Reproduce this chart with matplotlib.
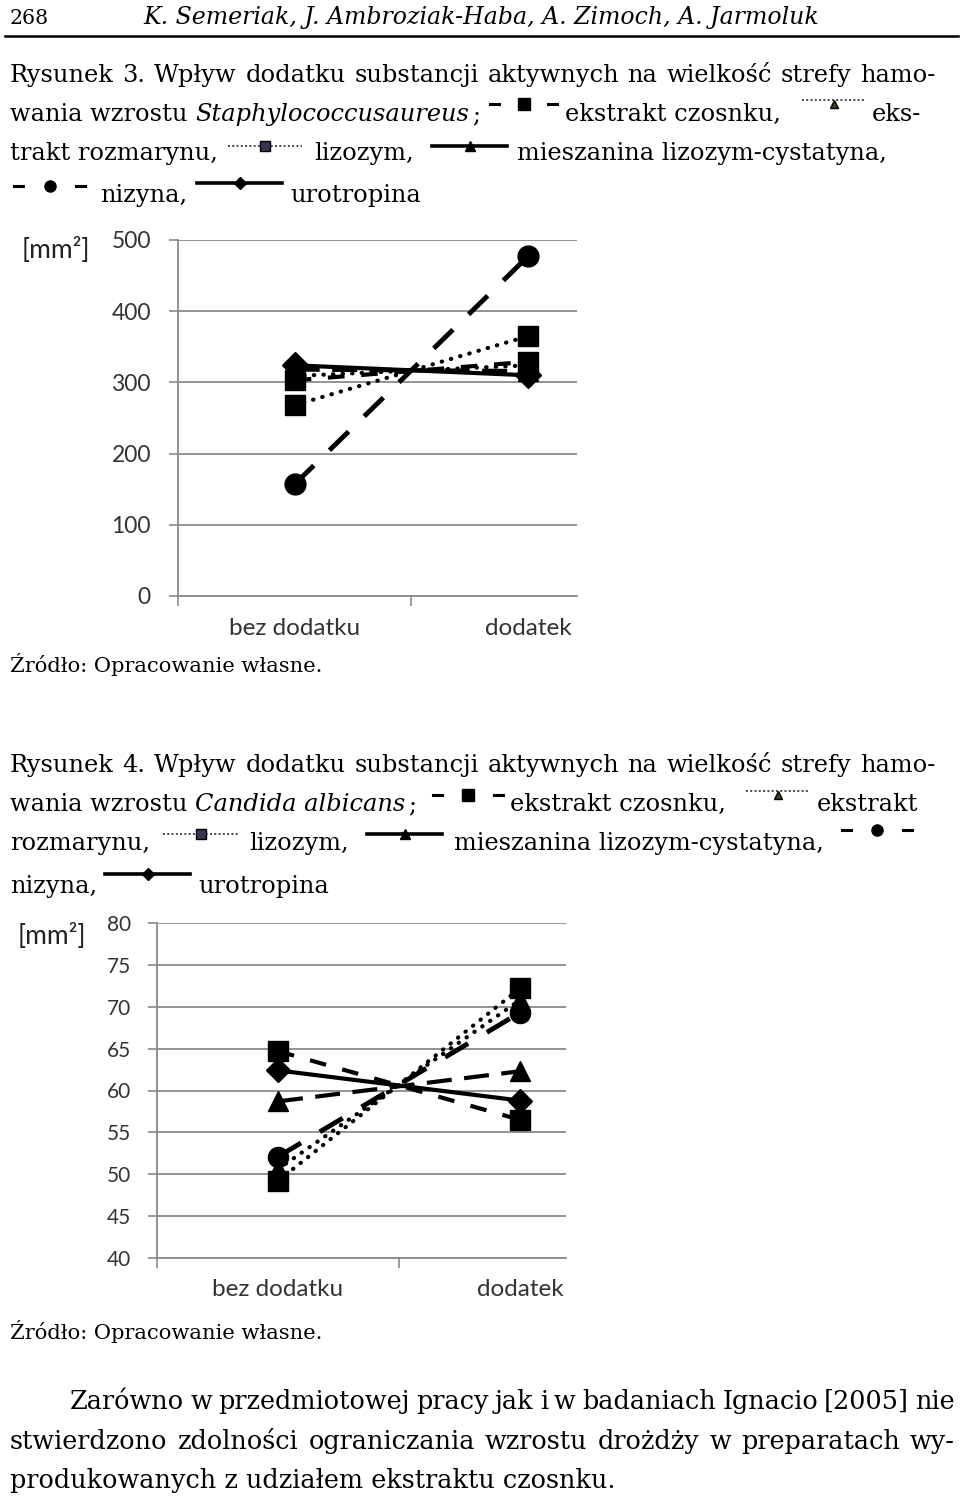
import numpy as np
import matplotlib.pyplot as plt
from matplotlib.lines import Line2D

categories = ['bez dodatku', 'dodatek']

# Rysunek 3 - Staphylococcus aureus, strefa hamowania [mm2]
staph_czosnek = [303, 329]
staph_rozmaryn = [309, 324]
staph_lizozym = [268, 365]
staph_mieszanina = [318, 316]
staph_nizyna = [157, 477]
staph_urotropina = [324, 310]
staph_ticks = [0, 100, 200, 300, 400, 500]

# Rysunek 4 - Candida albicans, strefa hamowania [mm2]
cand_czosnek = [64.7, 56.5]
cand_rozmaryn = [50.6, 70.8]
cand_lizozym = [49.2, 72.2]
cand_mieszanina = [58.7, 62.3]
cand_nizyna = [52.1, 69.3]
cand_urotropina = [62.4, 58.8]
cand_ticks = [40, 45, 50, 55, 60, 65, 70, 75, 80]

W, H = 960, 1499
fig = plt.figure(figsize=(W / 100, H / 100), dpi=100)
fig.patch.set_facecolor('white')
r = fig.canvas.get_renderer()

SERIF = 'DejaVu Serif'
SANS = 'Lato'


def put(x, y, s, size, **kw):
    # x, y in pixels from the top left corner, y = baseline
    kw.setdefault('family', SERIF)
    return fig.text(x / W, 1 - y / H, s, fontsize=size, ha='left', va='baseline', **kw)


def width(t):
    return t.get_window_extent(r).width


def fit(s, target, **kw):
    probe = put(0, 0, s, 10, **kw)
    size = 10 * target / width(probe)
    probe.remove()
    return size


def justify(x0, x1, y, s, size, **kw):
    words = s.split(' ')
    ts = [put(0, y, w, size, **kw) for w in words]
    ws = [width(t) for t in ts]
    gap = (x1 - x0 - sum(ws)) / (len(words) - 1)
    x = x0
    for t, w in zip(ts, ws):
        t.set_x(x / W)
        x += w + gap


def sym(x0, x1, y, kind, marker, ms, mfc='k', dy=0):
    # small legend glyph inside the caption text
    ys = [1 - y / H] * 2
    if kind == 'dash':
        fig.add_artist(Line2D([x0 / W, (x0 + 9) / W], ys, lw=2.2, color='k'))
        fig.add_artist(Line2D([(x1 - 9) / W, x1 / W], ys, lw=2.2, color='k'))
    elif kind == 'dot':
        fig.add_artist(Line2D([x0 / W, x1 / W], [ys[0] + dy / H] * 2, lw=1.4, color='#444444',
                              ls=(0, (1, 1.2))))
    else:
        fig.add_artist(Line2D([x0 / W, x1 / W], ys, lw=2.6, color='k'))
    fig.add_artist(Line2D([(x0 + x1) / 2 / W], [ys[0]], marker=marker, ms=ms,
                          color='k', mfc=mfc, ls='none'))


fs = fit('Rysunek 3. Wpływ dodatku substancji aktywnych na wielkość strefy hamo-', 915)
fp = fit('stwierdzono zdolności ograniczania wzrostu drożdży w preparatach wy-', 935)

# header
put(10, 24, '268', fs * 0.85)
put(143, 24, 'K. Semeriak, J. Ambroziak-Haba, A. Zimoch, A. Jarmoluk', fs * 0.98, style='italic')
fig.add_artist(Line2D([5 / W, 958 / W], [1 - 36 / H] * 2, lw=1.8, color='k'))

# caption 3
justify(10, 935, 82, 'Rysunek 3. Wpływ dodatku substancji aktywnych na wielkość strefy hamo-', fs)
put(10, 121, 'wania wzrostu', fs)
it = put(195, 121, 'Staphylococcusaureus', fs, style='italic')
put(195 + width(it) + 3, 121, ';', fs)
sym(490, 557, 104, 'dash', 's', 8)
put(565, 121, 'ekstrakt czosnku,', fs)
sym(802, 866, 104, 'dot', '^', 6, mfc='#3d4420', dy=4)
put(872, 121, 'eks-', fs)
put(10, 160, 'trakt rozmarynu,', fs)
sym(228, 302, 146, 'dot', 's', 7, mfc='#3b3355')
put(314, 160, 'lizozym,', fs)
sym(432, 507, 146, 'solid', '^', 7)
put(517, 160, 'mieszanina lizozym-cystatyna,', fs)
sym(14, 85, 186, 'dash', 'o', 8)
put(100, 202, 'nizyna,', fs)
sym(197, 282, 183, 'solid', 'D', 6)
put(290, 202, 'urotropina', fs)

# caption 4
justify(10, 935, 772, 'Rysunek 4. Wpływ dodatku substancji aktywnych na wielkość strefy hamo-', fs)
put(10, 811, 'wania wzrostu', fs)
it = put(195, 811, 'Candida albicans', fs, style='italic')
put(195 + width(it) + 3, 811, ';', fs)
sym(433, 503, 795, 'dash', 's', 8)
put(510, 811, 'ekstrakt czosnku,', fs)
sym(746, 810, 795, 'dot', '^', 6, mfc='#3d4420', dy=4)
put(817, 811, 'ekstrakt', fs)
put(10, 850, 'rozmarynu,', fs)
sym(163, 238, 834, 'dot', 's', 7, mfc='#3b3355')
put(249, 850, 'lizozym,', fs)
sym(367, 442, 834, 'solid', '^', 7)
put(454, 850, 'mieszanina lizozym-cystatyna,', fs)
sym(842, 912, 830, 'dash', 'o', 8)
put(10, 893, 'nizyna,', fs)
sym(105, 190, 874, 'solid', 'D', 6)
put(198, 893, 'urotropina', fs)

# source notes
put(10, 672, 'Źródło: Opracowanie własne.', fs * 0.87)
put(10, 1339, 'Źródło: Opracowanie własne.', fs * 0.87)

# paragraph
justify(70, 955, 1409, 'Zarówno w przedmiotowej pracy jak i w badaniach Ignacio [2005] nie', fp)
justify(10, 955, 1449, 'stwierdzono zdolności ograniczania wzrostu drożdży w preparatach wy-', fp)
put(10, 1488, 'produkowanych z udziałem ekstraktu czosnku.', fp)


def chart(box, xlim, ylim, ticks, data, tick_fs, cat_fs, ms, lab_pad):
    left, right, top, bottom = box
    ax = fig.add_axes([left / W, 1 - bottom / H, (right - left) / W, (bottom - top) / H])
    x = np.arange(len(categories))
    (czosnek, rozmaryn, lizozym, mieszanina, nizyna, urotropina) = data
    lw = 3
    ax.plot(x, mieszanina, color='k', lw=lw, ls=(0, (6, 3)), marker='^', ms=ms, zorder=3)
    ax.plot(x, czosnek, color='k', lw=lw, ls=(0, (4, 4)), marker='s', ms=ms, zorder=3)
    ax.plot(x, rozmaryn, color='k', lw=lw, ls=(0, (0.1, 2.2)), dash_capstyle='round',
            marker='^', ms=ms, zorder=3)
    ax.plot(x, lizozym, color='k', lw=lw, ls=(0, (0.1, 2.2)), dash_capstyle='round',
            marker='s', ms=ms, zorder=3)
    ax.plot(x, nizyna, color='k', lw=lw + 0.5, ls=(0, (5.5, 4.5)), marker='o', ms=ms, zorder=4)
    ax.plot(x, urotropina, color='k', lw=lw, marker='D', ms=ms * 0.85, zorder=4)
    ax.set_xlim(*xlim)
    ax.set_ylim(*ylim)
    ax.set_yticks(ticks)
    ax.set_xticks(x)
    ax.set_xticklabels(categories)
    ax.set_xticks([-0.5, 0.5], minor=True)
    ax.grid(axis='y', color='#8a8a8a', lw=1.3, zorder=0)
    ax.set_axisbelow(True)
    for s in ['top', 'right']:
        ax.spines[s].set_visible(False)
    for s in ['left', 'bottom']:
        ax.spines[s].set_color('#8a8a8a')
        ax.spines[s].set_linewidth(1.3)
    ax.tick_params(axis='y', length=6.5, width=1.2, color='#8a8a8a', pad=lab_pad,
                   labelsize=tick_fs, labelcolor='#333333')
    ax.tick_params(axis='x', which='major', length=0, pad=lab_pad + 3,
                   labelsize=cat_fs, labelcolor='#333333')
    ax.tick_params(axis='x', which='minor', length=7, width=1.2, color='#8a8a8a')
    for t in ax.get_xticklabels() + ax.get_yticklabels():
        t.set_family(SANS)
    return ax


chart((178, 577, 240, 596), (-0.5, 1.21), (0, 500), staph_ticks,
      (staph_czosnek, staph_rozmaryn, staph_lizozym, staph_mieszanina, staph_nizyna, staph_urotropina),
      16.5, 17.5, 15, 13)
chart((157, 566, 923, 1258), (-0.5, 1.19), (40, 80), cand_ticks,
      (cand_czosnek, cand_rozmaryn, cand_lizozym, cand_mieszanina, cand_nizyna, cand_urotropina),
      15, 17.5, 14.5, 12)

put(22, 258, '[mm²]', 19, family=SANS, color='#222222')
put(18, 944, '[mm²]', 19, family=SANS, color='#222222')

fig.savefig('out.png', dpi=100)
